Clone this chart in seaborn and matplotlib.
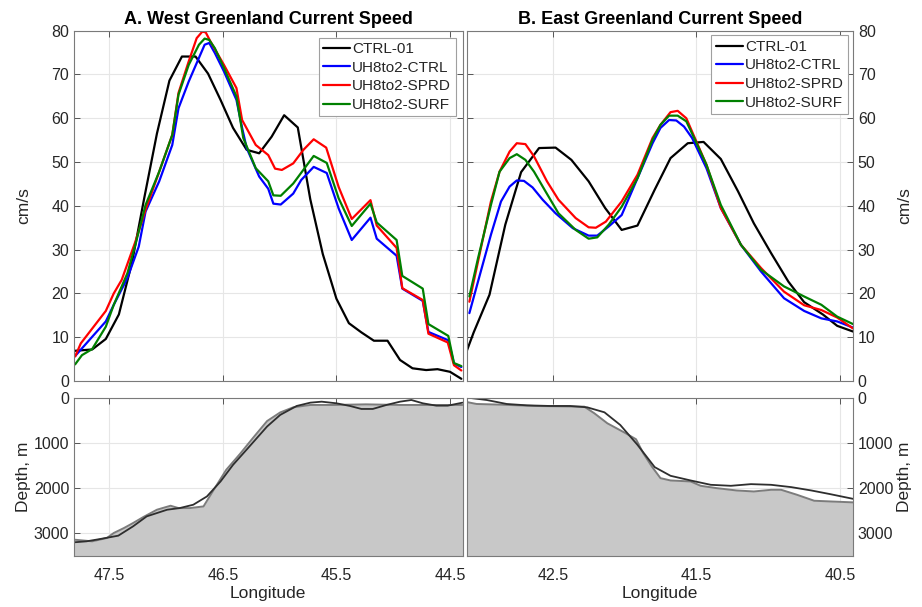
import numpy as np
import pandas as pd
import matplotlib
matplotlib.use("Agg")
import matplotlib.pyplot as plt
import seaborn as sns

# ---------------- data: West Greenland current speed (cm/s) ----------------
west_lon_ctrl01 = [47.80, 47.65, 47.53, 47.415, 47.30, 47.19, 47.08, 46.97, 46.86, 46.74, 46.63,
                   46.52, 46.41, 46.29, 46.18, 46.07, 45.96, 45.84, 45.73, 45.62, 45.50, 45.39,
                   45.28, 45.17, 45.05, 44.94, 44.83, 44.71, 44.61, 44.50, 44.40]
west_ctrl01 = [6.9, 7.2, 9.6, 15.2, 27.0, 42.0, 56.5, 68.6, 74.1, 74.1, 70.2,
               64.2, 57.8, 52.8, 52.0, 55.8, 60.7, 57.9, 41.5, 29.0, 18.8, 13.2,
               11.1, 9.2, 9.2, 4.8, 2.9, 2.5, 2.7, 2.1, 0.5]

west_lon_ctrl = [47.80, 47.53, 47.46, 47.34, 47.24, 47.18, 47.06, 46.945, 46.89, 46.80, 46.71,
                 46.66, 46.62, 46.57, 46.49, 46.38, 46.33, 46.29, 46.18, 46.10, 46.055, 45.99,
                 45.88, 45.81, 45.70, 45.585, 45.48, 45.365, 45.20, 45.145, 44.97, 44.92,
                 44.74, 44.69, 44.515, 44.465, 44.40]
west_ctrl = [5.7, 13.6, 17.4, 23.5, 30.7, 38.7, 45.6, 53.9, 62.3, 68.4, 73.8,
             76.8, 77.2, 74.9, 70.7, 64.2, 57.8, 53.2, 46.7, 43.9, 40.5, 40.3,
             42.8, 45.9, 48.9, 47.5, 39.4, 32.2, 37.3, 32.5, 28.6, 21.1,
             18.3, 11.2, 9.3, 4.0, 3.2]

west_lon_sprd = [47.80, 47.75, 47.53, 47.46, 47.39, 47.27, 47.18, 47.06, 46.945, 46.89, 46.80,
                 46.73, 46.68, 46.65, 46.61, 46.49, 46.38, 46.33, 46.21, 46.10, 46.04, 45.98,
                 45.88, 45.79, 45.70, 45.59, 45.48, 45.365, 45.20, 45.145, 44.97, 44.92,
                 44.74, 44.69, 44.52, 44.465, 44.40]
west_sprd = [5.6, 8.6, 16.0, 20.0, 23.1, 31.8, 39.1, 47.8, 56.2, 65.8, 73.0,
             78.3, 79.8, 79.6, 77.6, 72.2, 66.9, 59.6, 53.9, 51.6, 48.5, 48.2,
             49.7, 52.8, 55.2, 53.3, 44.3, 37.0, 41.3, 35.5, 30.4, 21.2,
             18.5, 10.8, 8.8, 3.6, 2.4]

west_lon_surf = [47.80, 47.74, 47.65, 47.53, 47.46, 47.34, 47.27, 47.18, 47.06, 46.945, 46.89,
                 46.80, 46.71, 46.66, 46.62, 46.57, 46.49, 46.38, 46.32, 46.21, 46.10, 46.055,
                 45.99, 45.88, 45.70, 45.585, 45.48, 45.365, 45.20, 45.145, 44.97, 44.92,
                 44.74, 44.69, 44.515, 44.465, 44.40]
west_surf = [3.8, 5.9, 7.3, 12.4, 17.4, 24.6, 31.1, 40.2, 47.8, 56.2, 65.4,
             72.2, 76.8, 78.2, 77.9, 76.0, 71.5, 65.0, 55.5, 48.6, 45.6, 42.4,
             42.3, 45.1, 51.4, 49.8, 41.7, 35.4, 40.5, 36.2, 32.2, 24.0,
             21.1, 13.0, 10.3, 4.1, 3.4]

# ---------------- data: East Greenland current speed (cm/s) ----------------
east_lon_ctrl01 = [43.10, 43.05, 42.94, 42.83, 42.72, 42.595, 42.48, 42.37, 42.25, 42.135, 42.02,
                   41.91, 41.79, 41.68, 41.56, 41.45, 41.33, 41.21, 41.10, 40.98, 40.86, 40.75,
                   40.62, 40.52, 40.41]
east_ctrl01 = [6.7, 11.1, 19.7, 35.7, 47.7, 53.2, 53.3, 50.5, 45.6, 39.5, 34.5,
               35.5, 43.7, 50.9, 54.3, 54.6, 50.7, 43.3, 36.0, 29.2, 22.7, 18.0,
               15.2, 12.6, 11.3]

east_lon_ctrl = [43.08, 43.02, 42.93, 42.86, 42.80, 42.75, 42.70, 42.64, 42.57, 42.48, 42.36,
                 42.25, 42.19, 42.11, 42.02, 41.91, 41.805, 41.75, 41.69, 41.64, 41.586, 41.53,
                 41.43, 41.33, 41.19, 41.05, 40.89, 40.75, 40.63, 40.52, 40.41]
east_ctrl = [15.5, 22.7, 33.4, 41.0, 44.4, 45.8, 45.7, 44.2, 41.4, 38.3, 34.9,
             33.2, 33.2, 35.3, 37.9, 46.3, 54.3, 57.8, 59.6, 59.5, 58.1, 55.5,
             48.6, 39.5, 31.1, 25.0, 18.9, 16.0, 14.3, 13.6, 12.2]

east_lon_sprd = [43.08, 43.04, 42.93, 42.87, 42.80, 42.75, 42.69, 42.63, 42.54, 42.46, 42.34,
                 42.25, 42.20, 42.13, 42.02, 41.91, 41.805, 41.75, 41.68, 41.63, 41.57, 41.52,
                 41.43, 41.33, 41.19, 41.05, 40.89, 40.75, 40.63, 40.52, 40.41]
east_sprd = [18.1, 24.2, 41.0, 47.8, 52.4, 54.3, 54.1, 51.3, 45.6, 41.4, 37.2,
             35.1, 35.0, 36.4, 41.0, 47.1, 55.5, 58.5, 61.4, 61.7, 60.0, 56.2,
             49.4, 39.5, 31.1, 25.8, 20.4, 17.3, 16.2, 14.5, 12.0]

east_lon_surf = [43.08, 43.02, 42.93, 42.87, 42.80, 42.75, 42.69, 42.63, 42.55, 42.46, 42.34,
                 42.25, 42.19, 42.11, 42.02, 41.91, 41.805, 41.75, 41.69, 41.63, 41.57, 41.52,
                 41.43, 41.33, 41.19, 41.05, 40.89, 40.75, 40.63, 40.52, 40.41]
east_surf = [19.3, 28.0, 40.2, 47.8, 50.9, 51.8, 50.5, 47.8, 43.3, 38.3, 34.5,
             32.5, 32.8, 35.7, 39.8, 46.3, 55.1, 58.5, 60.6, 60.6, 59.3, 55.8,
             49.4, 40.2, 31.1, 25.4, 21.6, 19.3, 17.4, 14.7, 13.0]

# ---------------- data: bathymetry (m) ----------------
west_topo_lon_a = [47.81, 47.65, 47.52, 47.46, 47.37, 47.29, 47.20, 47.08, 46.96, 46.89, 46.79,
                   46.67, 46.58, 46.47, 46.35, 46.23, 46.11, 45.995, 45.88, 45.73, 45.53,
                   45.24, 44.94, 44.65, 44.39]
west_topo_a = [3139, 3176, 3102, 2992, 2882, 2772, 2640, 2478, 2390, 2442, 2442,
               2405, 2038, 1597, 1250, 880, 520, 330, 217, 165, 165,
               151, 165, 165, 165]
west_topo_lon_b = [47.81, 47.70, 47.58, 47.42, 47.29, 47.17, 46.99, 46.88, 46.76, 46.64, 46.52,
                   46.41, 46.29, 46.11, 45.995, 45.85, 45.73, 45.63, 45.50, 45.38, 45.28,
                   45.18, 45.06, 44.94, 44.84, 44.74, 44.62, 44.52, 44.39]
west_topo_b = [3198, 3176, 3125, 3051, 2845, 2625, 2478, 2442, 2368, 2185, 1854,
               1487, 1150, 640, 385, 187, 114, 92, 128, 187, 253,
               253, 165, 92, 55, 128, 180, 180, 114]

east_topo_lon_a = [43.10, 43.03, 42.86, 42.63, 42.28, 42.21, 42.12, 42.00, 41.92, 41.87, 41.81,
                   41.75, 41.68, 41.54, 41.47, 41.36, 41.22, 41.10, 40.98, 40.91, 40.80,
                   40.68, 40.57, 40.40]
east_topo_a = [99, 143, 158, 187, 202, 349, 569, 775, 922, 1230, 1524,
               1781, 1832, 1854, 1950, 2001, 2053, 2075, 2038, 2038, 2148,
               2280, 2295, 2317]
east_topo_lon_b = [43.10, 42.96, 42.82, 42.68, 42.52, 42.38, 42.26, 42.14, 42.03, 41.91, 41.79,
                   41.68, 41.54, 41.40, 41.26, 41.12, 40.98, 40.84, 40.70, 40.57, 40.40]
east_topo_b = [0, 55, 143, 173, 187, 187, 217, 327, 606, 1046, 1538,
               1729, 1832, 1928, 1950, 1913, 1928, 1979, 2053, 2133, 2244]

run_names = ["CTRL-01", "UH8to2-CTRL", "UH8to2-SPRD", "UH8to2-SURF"]
run_colors = ["#000000", "#0000ff", "#ff0000", "#008000"]

west_lons = [west_lon_ctrl01, west_lon_ctrl, west_lon_sprd, west_lon_surf]
west_vals = [west_ctrl01, west_ctrl, west_sprd, west_surf]
east_lons = [east_lon_ctrl01, east_lon_ctrl, east_lon_sprd, east_lon_surf]
east_vals = [east_ctrl01, east_ctrl, east_sprd, east_surf]


def long_frame(lons, vals):
    frames = []
    for name, lo, va in zip(run_names, lons, vals):
        frames.append(pd.DataFrame({"lon": lo, "speed": va, "run": name}))
    return pd.concat(frames, ignore_index=True)


df_west = long_frame(west_lons, west_vals)
df_east = long_frame(east_lons, east_vals)

sns.set_theme(style="white")
plt.rcParams["font.family"] = ["Liberation Sans", "DejaVu Sans"]

TXT = "#262626"
W, H = 922.0, 607.0
fig = plt.figure(figsize=(9.22, 6.07), dpi=100)


def rect(x0, y0, x1, y1):
    return [x0 / W, 1 - y1 / H, (x1 - x0) / W, (y1 - y0) / H]


axTL = fig.add_axes(rect(74, 30.7, 462.5, 381))
axTR = fig.add_axes(rect(466.5, 30.7, 853, 381))
axBL = fig.add_axes(rect(74, 397.5, 462.5, 556))
axBR = fig.add_axes(rect(466.5, 397.5, 853, 556))


def style(ax, right=False, xlabels=False):
    ax.grid(True, color="#e6e6e6", linewidth=0.8)
    ax.set_axisbelow(True)
    ax.tick_params(direction="in", length=4, width=0.7, color="#555555",
                   labelcolor=TXT, labelsize=11.5,
                   top=True, bottom=True, left=True, right=True,
                   labelleft=not right, labelright=right, labelbottom=xlabels)
    ax.tick_params(axis="x", pad=9)
    for s in ax.spines.values():
        s.set_visible(True)
        s.set_color("#7a7a7a")
        s.set_linewidth(0.8)


def place_ylabel(ax, right):
    if right:
        ax.yaxis.set_label_position("right")
        ax.yaxis.set_label_coords(1 + (897 - 853) / 386.5, 0.5)
    else:
        ax.yaxis.set_label_coords(-(74 - 31) / 388.5, 0.5)


# speed panels
for ax, df, xlim, xt, title, right in [
        (axTL, df_west, (47.81, 44.39), [47.5, 46.5, 45.5, 44.5], "A. West Greenland Current Speed", False),
        (axTR, df_east, (43.10, 40.41), [42.5, 41.5, 40.5], "B. East Greenland Current Speed", True)]:
    sns.lineplot(data=df, x="lon", y="speed", hue="run", hue_order=run_names,
                 palette=run_colors, sort=False, estimator=None, units="run",
                 linewidth=1.6, ax=ax)
    ax.set_xlim(*xlim)
    ax.set_ylim(0, 80)
    ax.set_xticks(xt)
    ax.set_yticks(range(0, 81, 10))
    style(ax, right=right, xlabels=False)
    ax.set_xlabel("")
    ax.set_ylabel("cm/s", fontsize=12.5, color=TXT)
    place_ylabel(ax, right)
    ax.set_title(title, fontsize=13, fontweight="bold", color="#000000", pad=5)
    handles, labels = ax.get_legend_handles_labels()
    leg = ax.legend(handles, labels, loc="upper right", fontsize=11, frameon=True,
                    fancybox=False, framealpha=1, edgecolor="#a0a0a0",
                    handlelength=1.75, handletextpad=0.15, borderpad=0.3,
                    labelspacing=0.3, borderaxespad=0.45 if not right else 0.3)
    leg.get_frame().set_linewidth(0.8)

# bathymetry panels
for ax, la, da, lb, db, xlim, xt, right in [
        (axBL, west_topo_lon_a, west_topo_a, west_topo_lon_b, west_topo_b, (47.81, 44.39), [47.5, 46.5, 45.5, 44.5], False),
        (axBR, east_topo_lon_a, east_topo_a, east_topo_lon_b, east_topo_b, (43.10, 40.41), [42.5, 41.5, 40.5], True)]:
    ax.fill_between(la, da, 3600, color="#c8c8c8", linewidth=0)
    sns.lineplot(x=la, y=da, color="#7c7c7c", linewidth=1.4, sort=False, estimator=None, ax=ax)
    sns.lineplot(x=lb, y=db, color="#2e2e2e", linewidth=1.3, sort=False, estimator=None, ax=ax)
    ax.set_xlim(*xlim)
    ax.set_ylim(3500, 0)
    ax.set_xticks(xt)
    ax.set_xticklabels([f"{v:.1f}" for v in xt])
    ax.set_yticks([0, 1000, 2000, 3000])
    style(ax, right=right, xlabels=True)
    ax.set_xlabel("Longitude", fontsize=12.5, color=TXT, labelpad=2)
    ax.set_ylabel("Depth, m", fontsize=12.5, color=TXT)
    place_ylabel(ax, right)

fig.savefig("out.png", dpi=100)
